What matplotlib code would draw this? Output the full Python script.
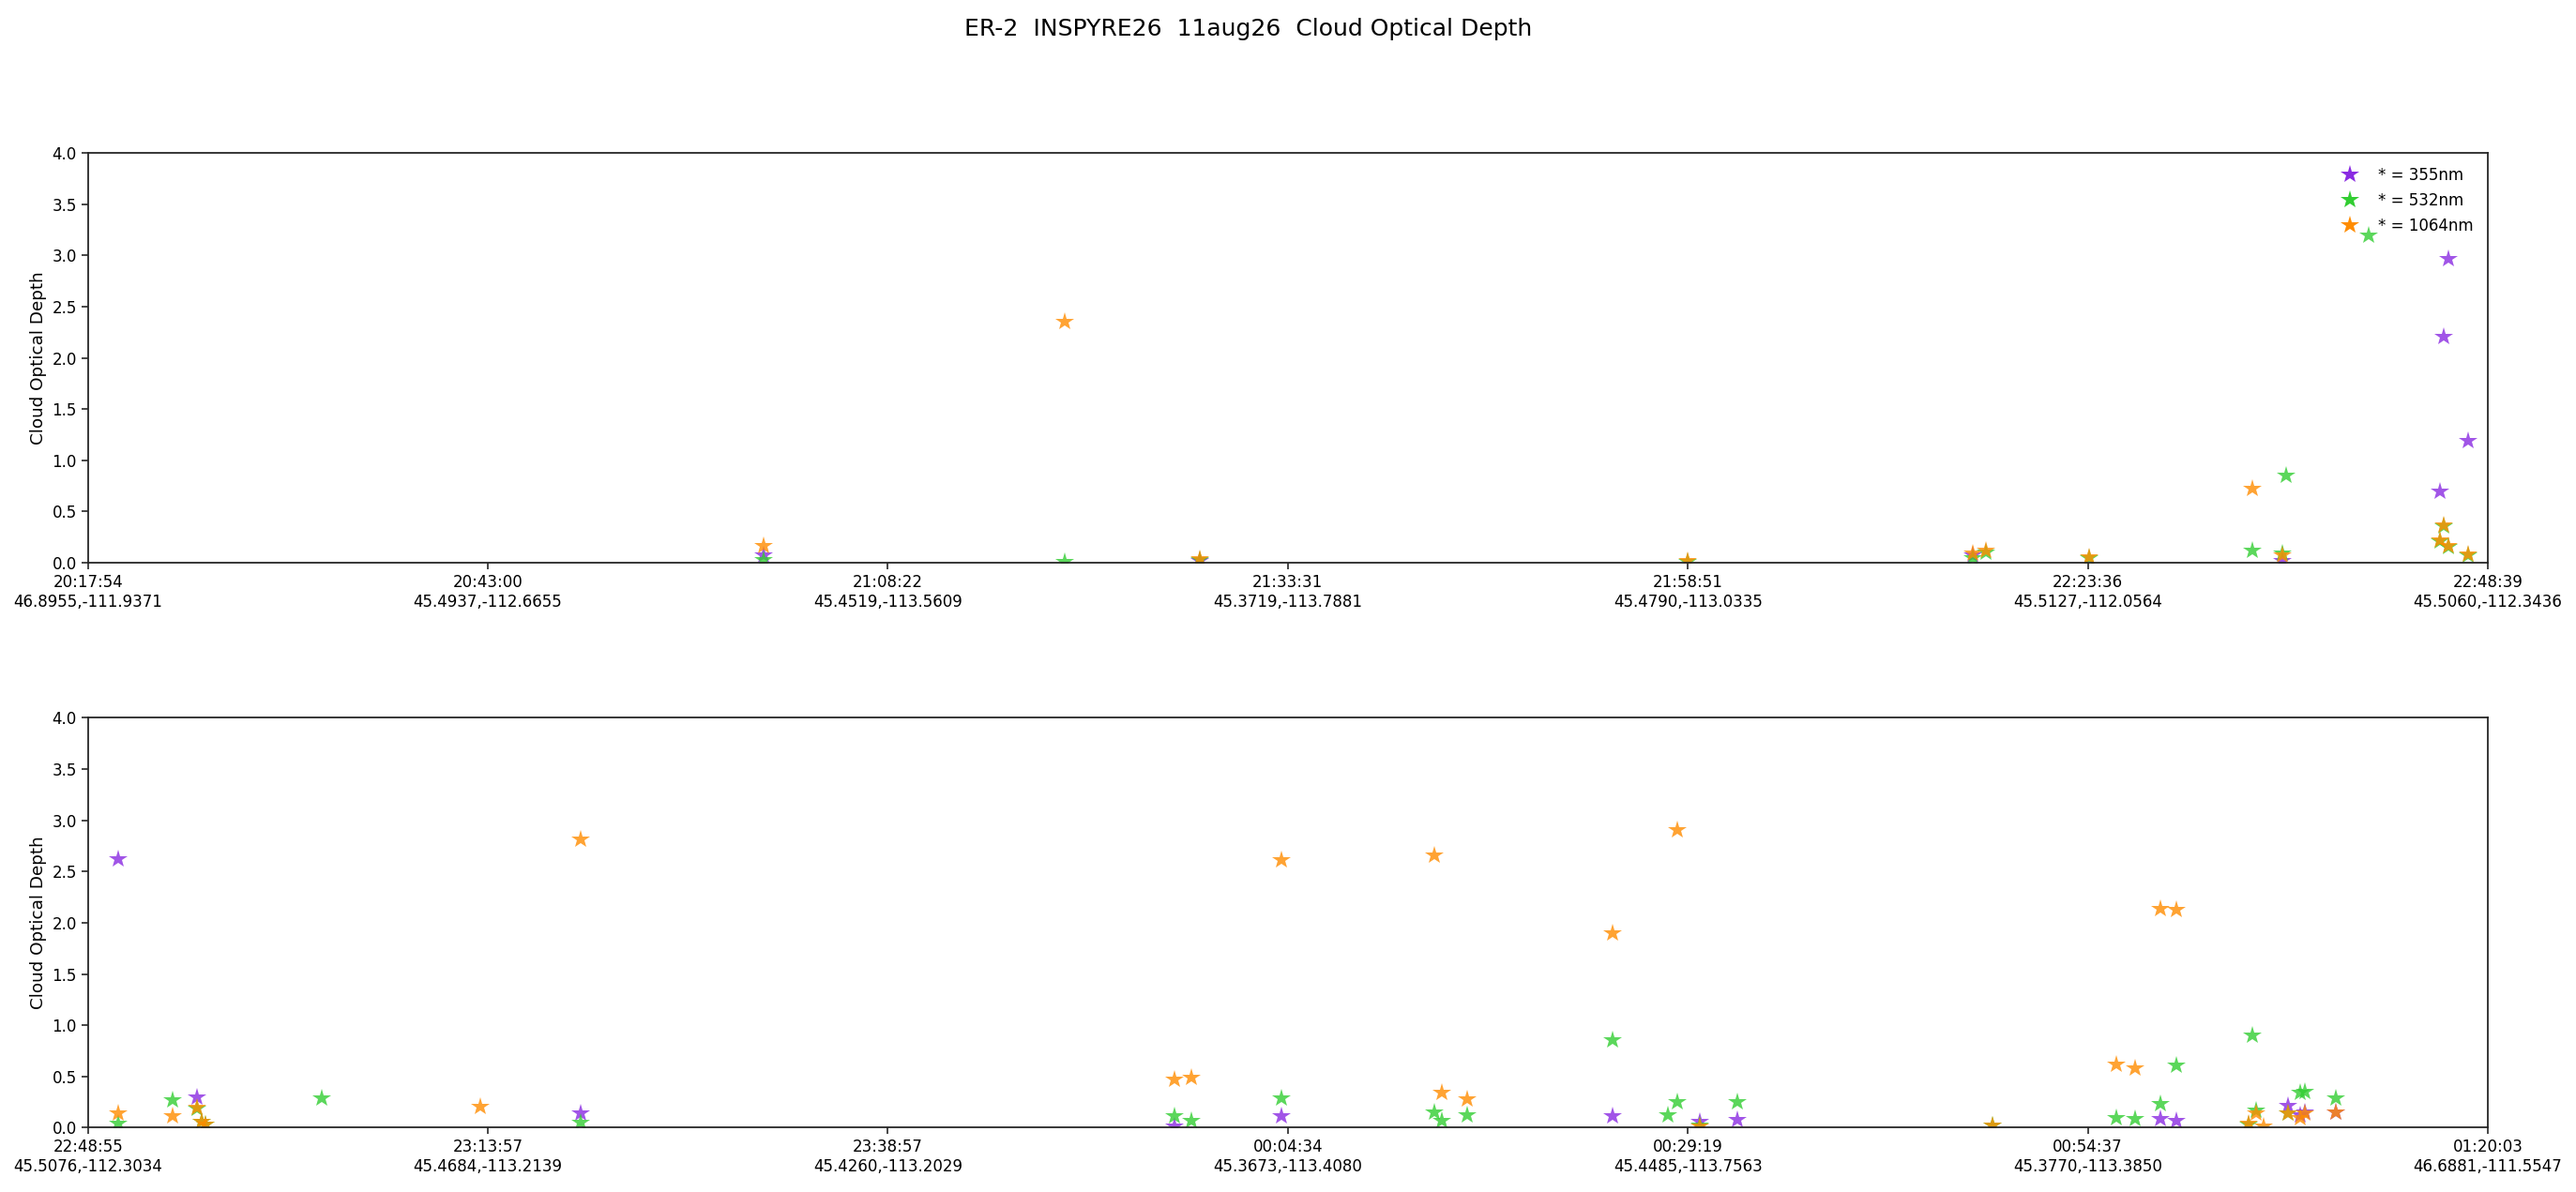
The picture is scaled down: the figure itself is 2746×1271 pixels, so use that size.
import numpy as np
import matplotlib
matplotlib.use("Agg")
import matplotlib.pyplot as plt
from matplotlib.lines import Line2D

# record index of each cloud layer, and optical depths per wavelength
# --- first leg ---
top_x_355 = [168.9, 278.0, 471.2, 548.7, 588.1, 589.0, 590.1, 595.1]
top_y_355 = [0.076, 0.02, 0.07, 0.02, 0.70, 2.21, 2.97, 1.19]
top_x_532 = [168.9, 244.2, 278.1, 400.0, 471.2, 474.4, 500.4, 541.2, 548.7,
             549.6, 570.3, 588.0, 589.0, 590.1, 595.1]
top_y_532 = [0.03, 0.01, 0.03, 0.01, 0.05, 0.10, 0.05, 0.12, 0.09,
             0.85, 3.19, 0.21, 0.36, 0.16, 0.07]
top_x_1064 = [168.9, 244.2, 278.1, 400.0, 471.3, 474.4, 500.4, 541.2, 548.7,
              588.0, 589.0, 590.1, 595.1]
top_y_1064 = [0.17, 2.35, 0.04, 0.02, 0.09, 0.12, 0.06, 0.72, 0.07,
              0.22, 0.37, 0.17, 0.08]
top_ticklabels = ['20:17:54\n46.8955,-111.9371', '20:43:00\n45.4937,-112.6655',
                  '21:08:22\n45.4519,-113.5609', '21:33:31\n45.3719,-113.7881',
                  '21:58:51\n45.4790,-113.0335', '22:23:36\n45.5127,-112.0564',
                  '22:48:39\n45.5060,-112.3436']

# --- second leg ---
bot_x_355 = [7.7, 27.2, 123.2, 271.6, 298.3, 381.2, 403.0, 412.3, 518.2,
             522.1, 550.1, 553.0, 554.2, 562.0]
bot_y_355 = [2.62, 0.295, 0.14, 0.015, 0.11, 0.115, 0.062, 0.078, 0.084,
             0.066, 0.212, 0.12, 0.151, 0.15]
bot_x_532 = [7.7, 21.3, 27.2, 28.4, 29.5, 58.4, 123.2, 271.6, 275.9, 298.3,
             336.7, 338.6, 344.8, 381.2, 395.1, 397.4, 403.0, 412.3, 476.2,
             507.0, 511.8, 518.2, 522.1, 540.1, 541.2, 542.1, 550.1, 553.0,
             554.2, 562.0]
bot_y_532 = [0.04, 0.27, 0.19, 0.06, 0.03, 0.285, 0.05, 0.115, 0.07, 0.285,
             0.155, 0.068, 0.124, 0.859, 0.124, 0.254, 0.02, 0.248, 0.02,
             0.099, 0.084, 0.23, 0.609, 0.03, 0.899, 0.169, 0.14, 0.343,
             0.35, 0.291]
bot_x_1064 = [7.7, 21.3, 27.2, 28.4, 29.5, 98.2, 123.2, 271.6, 275.9, 298.3,
              336.7, 338.6, 344.8, 381.2, 397.4, 403.0, 476.2, 507.0, 511.8,
              518.2, 522.1, 540.1, 542.1, 544.0, 550.1, 553.0, 554.2, 562.0]
bot_y_1064 = [0.14, 0.11, 0.195, 0.06, 0.03, 0.21, 2.81, 0.474, 0.487, 2.61,
              2.66, 0.347, 0.28, 1.90, 2.905, 0.015, 0.02, 0.618, 0.584,
              2.134, 2.128, 0.038, 0.145, 0.018, 0.139, 0.099, 0.139, 0.154]
bot_ticklabels = ['22:48:55\n45.5076,-112.3034', '23:13:57\n45.4684,-113.2139',
                  '23:38:57\n45.4260,-113.2029', '00:04:34\n45.3673,-113.4080',
                  '00:29:19\n45.4485,-113.7563', '00:54:37\n45.3770,-113.3850',
                  '01:20:03\n46.6881,-111.5547']

n_records = 600
colors = {'355': 'blueviolet', '532': 'limegreen', '1064': 'darkorange'}
fs = 12.0
ms = 14.8

fig, axes = plt.subplots(2, 1, figsize=(27.46, 12.71), dpi=100)
fig.subplots_adjust(left=0.0341, right=0.9658, top=0.8718, bottom=0.0539, hspace=0.378)

panels = [
    (axes[0], top_x_355, top_y_355, top_x_532, top_y_532, top_x_1064, top_y_1064, top_ticklabels),
    (axes[1], bot_x_355, bot_y_355, bot_x_532, bot_y_532, bot_x_1064, bot_y_1064, bot_ticklabels),
]

for ax, x1, y1, x2, y2, x3, y3, labels in panels:
    ax.plot(x1, y1, linestyle='none', marker='*', markersize=ms, color=colors['355'], alpha=0.8, markeredgewidth=0)
    ax.plot(x2, y2, linestyle='none', marker='*', markersize=ms, color=colors['532'], alpha=0.8, markeredgewidth=0)
    ax.plot(x3, y3, linestyle='none', marker='*', markersize=ms, color=colors['1064'], alpha=0.8, markeredgewidth=0)
    ax.set_xlim(0, n_records)
    ax.set_ylim(0, 4)
    ax.set_xticks(np.linspace(0, n_records, 7))
    ax.set_xticklabels(labels, fontsize=fs)
    ax.set_yticks(np.arange(0, 4.01, 0.5))
    ax.set_yticklabels(['%.1f' % v for v in np.arange(0, 4.01, 0.5)], fontsize=fs)
    ax.set_ylabel('Cloud Optical Depth', fontsize=13.2)
    for sp in ax.spines.values():
        sp.set_linewidth(1.3)
        sp.set_color('.15')
    ax.tick_params(length=5, width=1.2, color='.15')

handles = [Line2D([], [], linestyle='none', marker='*', markersize=ms, color=colors[k], markeredgewidth=0)
           for k in ['355', '532', '1064']]
axes[0].legend(handles, ['* = 355nm', '* = 532nm', '* = 1064nm'], loc='upper right',
               frameon=False, fontsize=fs, labelspacing=0.55, handletextpad=0.8)

fig.suptitle('ER-2  INSPYRE26  11aug26  Cloud Optical Depth', fontsize=18.0, x=0.4847, y=0.985)

fig.savefig('out.png', dpi=100)
